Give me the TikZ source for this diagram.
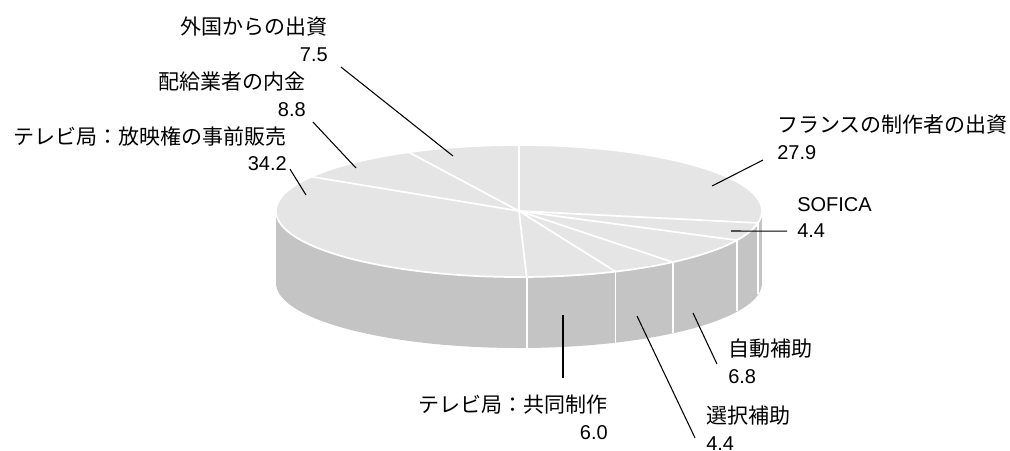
\documentclass[tikz,border=0pt]{standalone}
\usepackage{fontspec}
\setmainfont{Liberation Sans}
\newfontfamily\cjk{Noto Sans CJK JP}
\usepackage{tikz}
\definecolor{pietop}{gray}{0.9}
\definecolor{pieside}{gray}{0.77}
\newcommand{\jp}[1]{{\cjk\fontsize{15.75pt}{20pt}\selectfont #1}}

\begin{document}
\begin{tikzpicture}[x=.75pt,y=-.75pt,%pixel grid of the reference
	lbl/.style={inner sep=0pt,font=\fontsize{15pt}{20pt}\selectfont},
	lft/.style={lbl,align=right,anchor=north east},
	rgt/.style={lbl,align=left,anchor=north west},
	seam/.style={white,line width=1.3pt},
	lead/.style={black,line width=.8pt}]
	\useasboundingbox (0,0) rectangle (1010,450);
	\begin{scope}[shift={(519,211)}]
	 % side of the cake
	 \fill[pieside] (-243,0) rectangle (243,72);
	 \fill[pieside] (0,72) ellipse [x radius=243,y radius=65];
	 \foreach \t in {10.44,26.28,50.76,66.6,88.2}
	 \draw[seam] (\t:243 and 66) -- ++(0,71);
	 % top of the cake
	 \fill[pietop] (0,0) ellipse [x radius=243,y radius=66];
	 \foreach \t in {-90,10.44,26.28,50.76,66.6,88.2,211.32,243}
	 \draw[seam] (0,0) -- (\t:243 and 66);
	 \draw[seam] (0,0) ellipse [x radius=243,y radius=66];
	 % inner ends of the leaders
	 \coordinate (frp-i) at (193,-25);
	 \coordinate (sof-i) at (212,20);
	 \coordinate (aut-i) at (174,102);
	 \coordinate (sel-i) at (118,105);
	 \coordinate (tvc-i) at (44,104);
	 \coordinate (tvp-i) at (-213,-16);
	 \coordinate (dst-i) at (-163,-43);
	 \coordinate (fgn-i) at (-66,-55);
	\end{scope}
	% labels
	\node[rgt] (frp) at (777,115) {\jp{フランスの制作者の出資}\\27.9};
	\node[rgt] (sof) at (797,197) {SOFICA\\4.4};
	\node[rgt] (aut) at (728,339) {\jp{自動補助}\\6.8};
	\node[rgt] (sel) at (706,406) {\jp{選択補助}\\4.4};
	\node[lft] (tvc) at (608,395) {\jp{テレビ局：共同制作}\\6.0};
	\node[lft] (tvp) at (287,126) {\jp{テレビ局：放映権の事前販売}\\34.2};
	\node[lft] (dst) at (306,72) {\jp{配給業者の内金}\\8.8};
	\node[lft] (fgn) at (328,17) {\jp{外国からの出資}\\7.5};
	% leaders
	\draw[lead] ([shift={(-14,0)}]frp.south west) -- (frp-i);
	\draw[lead] ([shift={(-10,-7)}]sof.south west) -- (sof-i);
	\draw[lead] ([shift={(-11,-20)}]aut.south west) -- (aut-i);
	\draw[lead] ([shift={(-11,-13)}]sel.south west) -- (sel-i);
	\draw[lead] ([shift={(-45,-17)}]tvc.north east) -- (tvc-i);
	\draw[lead] ([shift={(3,-2)}]tvp.south east) -- (tvp-i);
	\draw[lead] ([shift={(7,5)}]dst.south east) -- (dst-i);
	\draw[lead] ([shift={(13,5)}]fgn.south east) -- (fgn-i);
\end{tikzpicture}
\end{document}
